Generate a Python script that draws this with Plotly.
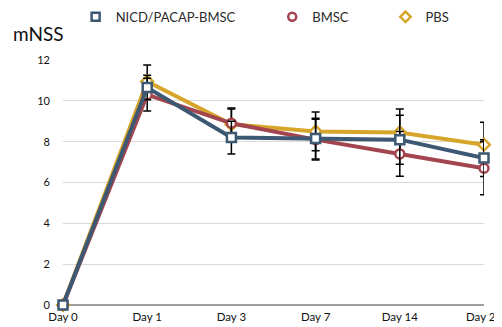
import plotly.graph_objects as go

days = ["Day 0", "Day 1", "Day 3", "Day 7", "Day 14", "Day 21"]
nicd = [0, 10.65, 8.2, 8.15, 8.1, 7.2]
nicd_err = [0, 0.6, 0.8, 1.0, 1.2, 0.9]
bmsc = [0, 10.3, 8.9, 8.1, 7.4, 6.7]
bmsc_err = [0, 0.8, 0.75, 1.0, 1.1, 1.3]
pbs = [0, 10.95, 8.85, 8.5, 8.45, 7.85]
pbs_err = [0, 0.8, 0.75, 0.95, 1.15, 1.1]
y_ticks = [0, 2, 4, 6, 8, 10, 12]

FONT = "Lato, 'DejaVu Sans', sans-serif"

series = [
    ("NICD/PACAP-BMSC", nicd, nicd_err, "#3c5872", "square", "legend", 0.03),
    ("BMSC", bmsc, bmsc_err, "#a3454f", "circle", "legend2", 0.497),
    ("PBS", pbs, pbs_err, "#d6a52a", "diamond", "legend3", 0.766),
]

fig = go.Figure()
for i in [2, 1, 0]:
    name, vals, err, col, sym, lg, lx = series[i]
    fig.add_trace(go.Scatter(
        x=days, y=vals, name=name, mode="lines+markers",
        line=dict(color=col, width=4),
        marker=dict(symbol=sym, size=9, color="white",
                    line=dict(color=col, width=2.5)),
        error_y=dict(type="data", array=err, visible=True, color="black",
                     thickness=1.5, width=4),
        cliponaxis=False, showlegend=False,
    ))

legends = {}
for name, vals, err, col, sym, lg, lx in series:
    fig.add_trace(go.Scatter(
        x=[None], y=[None], name=name, mode="markers", legend=lg,
        marker=dict(symbol=sym, size=8, color="white", line=dict(color=col, width=2.5)),
    ))
    legends[lg] = dict(orientation="h", x=lx, y=1.176, xanchor="left", yanchor="middle",
                       font=dict(size=13, color="#2a2a2a", family=FONT), itemwidth=30,
                       bgcolor="rgba(0,0,0,0)")

fig.update_layout(
    width=502, height=327,
    margin=dict(l=55, r=26, t=52, b=30, autoexpand=False),
    paper_bgcolor="white", plot_bgcolor="white",
    font=dict(family=FONT, size=11, color="#111"),
    showlegend=True,
    **legends,
    xaxis=dict(type="category", range=[0, 5], showgrid=False, zeroline=False,
               showline=False, ticks="", tickfont=dict(size=11.5, color="#111"),
               ticklabelstandoff=3, fixedrange=True),
    yaxis=dict(range=[0, 12], tickvals=y_ticks, showgrid=True, gridcolor="#d9d9d9",
               gridwidth=1, zeroline=True, zerolinecolor="#a0a0a0", zerolinewidth=1.5,
               showline=False, ticks="", ticklabelstandoff=12,
               tickfont=dict(size=11, color="#111")),
    annotations=[dict(text="mNSS", xref="paper", yref="paper", x=-0.059, y=1.11,
                      xanchor="center", yanchor="middle", showarrow=False,
                      font=dict(size=19, color="#111"))],
)

fig.write_html("out.html")
